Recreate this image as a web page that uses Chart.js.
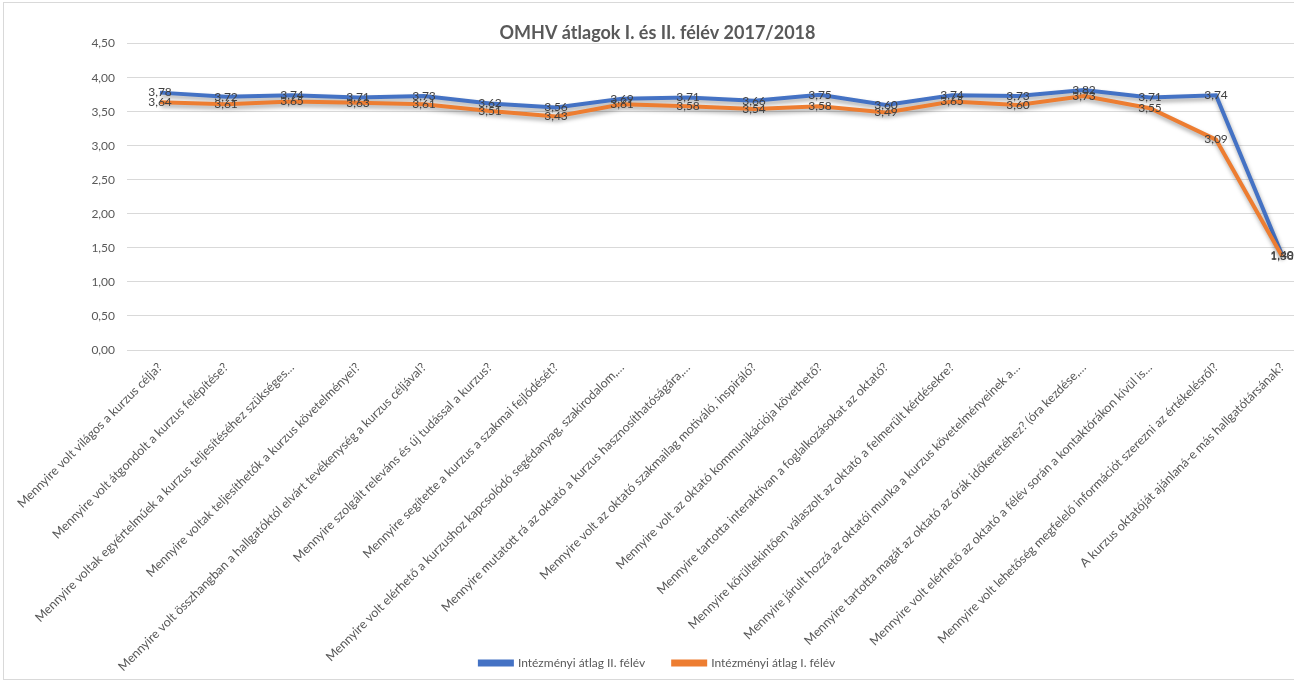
<!DOCTYPE html>
<html>
<head>
<meta charset="utf-8">
<script src="https://cdn.jsdelivr.net/npm/chart.js@4/dist/chart.umd.min.js"></script>
<style>
  body { margin: 0; overflow: hidden; background: #fff; }
  #frame { position: absolute; left: 3px; top: 2px; width: 1320px; height: 676px; border: 1px solid #d9d9d9; pointer-events: none; }
  #myChart { position: absolute; left: 0; top: 0; }
</style>
</head>
<body>
<canvas id="myChart" width="1322" height="683"></canvas>
<div id="frame"></div>
<script>
var categories = [
  "Mennyire volt világos a kurzus célja?",
  "Mennyire volt átgondolt a kurzus felépítése?",
  "Mennyire voltak egyértelműek a kurzus teljesítéséhez szükséges…",
  "Mennyire voltak teljesíthetők a kurzus követelményei?",
  "Mennyire volt összhangban a hallgatóktól elvárt tevékenység a kurzus céljával?",
  "Mennyire szolgált releváns és új tudással a kurzus?",
  "Mennyire segítette a kurzus a szakmai fejlődését?",
  "Mennyire volt elérhető a kurzushoz kapcsolódó segédanyag, szakirodalom,…",
  "Mennyire mutatott rá az oktató a kurzus hasznosíthatóságára,…",
  "Mennyire volt az oktató szakmailag motiváló, inspiráló?",
  "Mennyire volt az oktató kommunikációja követhető?",
  "Mennyire tartotta interaktívan a foglalkozásokat az oktató?",
  "Mennyire körültekintően válaszolt az oktató a felmerült kérdésekre?",
  "Mennyire járult hozzá az oktatói munka a kurzus követelményeinek a…",
  "Mennyire tartotta magát az oktató az órák időkeretéhez? (óra kezdése,…",
  "Mennyire volt elérhető az oktató a félév során a kontaktórákon kívül is…",
  "Mennyire volt lehetőség megfelelő információt szerezni az értékelésről?",
  "A kurzus oktatóját ajánlaná-e más hallgatótársának?"
];

// Intézményi átlag II. félév
var atlagII = [3.78, 3.72, 3.74, 3.71, 3.73, 3.62, 3.56, 3.69, 3.71, 3.66, 3.75, 3.60, 3.74, 3.73, 3.82, 3.71, 3.74, 1.40];
// Intézményi átlag I. félév
var atlagI = [3.64, 3.61, 3.65, 3.63, 3.61, 3.51, 3.43, 3.61, 3.58, 3.54, 3.58, 3.49, 3.65, 3.60, 3.73, 3.55, 3.09, 1.38];

var yTicks = [0, 0.5, 1, 1.5, 2, 2.5, 3, 3.5, 4, 4.5];

var gray = '#595959';
var fmt = function(v) { return v.toFixed(2).replace('.', ','); };

// shadow under the lines, like in Excel
var shadowPlugin = {
  id: 'shadow',
  beforeDatasetDraw: function(chart) {
    var c = chart.ctx;
    c.save();
    c.shadowColor = 'rgba(0,0,0,0.35)';
    c.shadowBlur = 4;
    c.shadowOffsetX = 1;
    c.shadowOffsetY = 3;
  },
  afterDatasetDraw: function(chart) {
    chart.ctx.restore();
  }
};

// let the long category labels run down past the axis box (they overlap the legend area in Excel too)
var unclipLabels = {
  id: 'unclipLabels',
  afterLayout: function(chart) {
    chart.scales.x.bottom = chart.height;
  }
};

// value labels centered on each point
var valueLabels = {
  id: 'valueLabels',
  afterDatasetsDraw: function(chart) {
    var c = chart.ctx;
    c.save();
    c.font = '12px Lato';
    c.fillStyle = '#404040';
    c.textAlign = 'center';
    c.textBaseline = 'middle';
    chart.data.datasets.forEach(function(ds, i) {
      var meta = chart.getDatasetMeta(i);
      meta.data.forEach(function(pt, j) {
        c.fillText(fmt(ds.data[j]), pt.x, pt.y);
      });
    });
    c.restore();
  }
};

var ctx = document.getElementById('myChart').getContext('2d');
var myChart = new Chart(ctx, {
  type: 'line',
  data: {
    labels: categories,
    datasets: [{
      label: 'Intézményi átlag II. félév',
      data: atlagII,
      borderColor: '#4472C4',
      backgroundColor: '#4472C4',
      borderWidth: 4,
      pointRadius: 0,
      tension: 0,
      order: 1
    },
    {
      label: 'Intézményi átlag I. félév',
      data: atlagI,
      borderColor: '#ED7D31',
      backgroundColor: '#ED7D31',
      borderWidth: 4,
      pointRadius: 0,
      tension: 0,
      order: 0
    }]
  },
  options: {
    responsive: false,
    animation: false,
    layout: { padding: { left: 0, right: 7, top: 0, bottom: 4 } },
    plugins: {
      title: {
        display: true,
        text: 'OMHV átlagok I. és II. félév 2017/2018',
        color: gray,
        font: { family: 'Lato', size: 18, weight: 'bold' },
        padding: { top: 22, bottom: 0 }
      },
      legend: {
        position: 'bottom',
        labels: {
          color: gray,
          font: { family: 'Lato', size: 12 },
          boxWidth: 32,
          boxHeight: 3,
          padding: 28,
          sort: function(a, b) { return a.datasetIndex - b.datasetIndex; }
        }
      },
      tooltip: { enabled: false }
    },
    scales: {
      x: {
        offset: true,
        grid: { display: false },
        border: { display: false },
        ticks: {
          color: gray,
          font: { family: 'Lato', size: 12.5 },
          autoSkip: false,
          minRotation: 45,
          maxRotation: 45,
          padding: 2
        },
        afterFit: function(axis) { axis.height = 279; }
      },
      y: {
        min: 0,
        max: 4.5,
        afterBuildTicks: function(axis) {
          axis.ticks = yTicks.map(function(v) { return { value: v }; });
        },
        grid: { color: '#d9d9d9', drawTicks: false },
        border: { display: false },
        ticks: {
          color: gray,
          font: { family: 'Lato', size: 12 },
          padding: 12,
          callback: function(v) { return fmt(v); }
        },
        afterFit: function(axis) { axis.width = 127; }
      }
    }
  },
  plugins: [shadowPlugin, unclipLabels, valueLabels]
});
</script>
</body>
</html>
